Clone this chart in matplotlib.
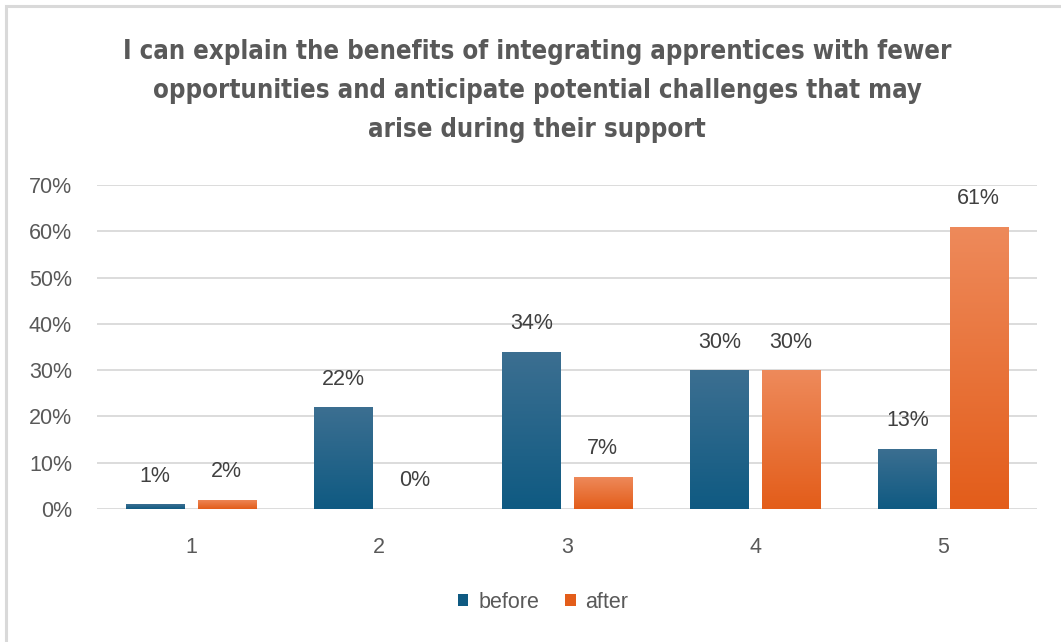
import numpy as np
import matplotlib
matplotlib.use("Agg")
import matplotlib.pyplot as plt
from matplotlib import font_manager as fm
from matplotlib.patches import Rectangle
from matplotlib.colors import LinearSegmentedColormap

# ---- data ----
categories = ["1", "2", "3", "4", "5"]
before = [1, 22, 34, 30, 13]
after = [2, 0, 7, 30, 61]
series_names = ["before", "after"]
y_ticks = [0, 10, 20, 30, 40, 50, 60, 70]
title = ("I can explain the benefits of integrating apprentices with fewer\n"
         "opportunities and anticipate potential challenges that may\n"
         "arise during their support")

W, H = 1061, 642
FS = 15.5
FAM = ["Liberation Sans", "DejaVu Sans"]
fig = plt.figure(figsize=(W / 100, H / 100), dpi=100)
fig.patch.set_facecolor("white")

# outer chart border (left/top visible)
fig.patches.append(Rectangle((6 / W, -0.1), 1.2, (H - 6) / H + 0.1, transform=fig.transFigure,
                             fill=False, edgecolor="#d9d9d9", linewidth=2.2))

ax = fig.add_axes([97 / W, (H - 509) / H, 940 / W, (509 - 185) / H])
for s in ax.spines.values():
    s.set_visible(False)
ax.set_yticks(y_ticks)
ax.set_yticklabels([f"{v}%" for v in y_ticks])
ax.yaxis.grid(True, color="#d9d9d9", linewidth=1.3)
ax.set_axisbelow(True)
ax.tick_params(axis="both", length=0, labelsize=FS, labelcolor="#595959")
ax.tick_params(axis="y", pad=18)
ax.tick_params(axis="x", pad=20)
x = np.arange(len(categories))
ax.set_xticks(x)
ax.set_xticklabels(categories)
for lab in ax.get_xticklabels() + ax.get_yticklabels():
    lab.set_fontfamily(FAM)

bw = 0.309
off = 0.19
colors = {"before": ("#0f5a82", "#3c6f91"), "after": ("#e35d1a", "#ee8a5b")}
for vals, name, sign in [(before, "before", -1), (after, "after", 1)]:
    bot, top = colors[name]
    bars = ax.bar(x + sign * off, vals, width=bw, color=bot, zorder=2, label=name,
                  edgecolor="none")
    cmap = LinearSegmentedColormap.from_list(name, [bot, top])
    grad = np.linspace(0, 1, 256).reshape(-1, 1)
    for b, v in zip(bars, vals):
        if b.get_height() > 0:
            im = ax.imshow(grad, extent=[b.get_x(), b.get_x() + b.get_width(), 0, b.get_height()],
                           origin="lower", cmap=cmap, aspect="auto", zorder=2.5, interpolation="bicubic")
            im.set_clip_path(b)
        ax.annotate(f"{v}%", (b.get_x() + b.get_width() / 2, b.get_height()),
                    xytext=(0, 28), textcoords="offset pixels", ha="center", va="center",
                    fontsize=FS, color="#404040", family=FAM, zorder=4)
ax.set_xlim(-0.5, len(categories) - 0.5)
ax.set_ylim(0, 70)

# title: choose a condensed bold font if present, else fit width
cond = None
for f in fm.fontManager.ttflist:
    if f.stretch in ("condensed", "semi-condensed", 600, 700) or "Condensed" in f.name:
        if f.weight in ("bold", 700, "semibold", 600):
            cond = f
            break
ls = 1.55
tprops = dict(ha="center", va="center", color="#595959")
if cond is not None:
    t = fig.text(537 / W, (H - 91) / H, title, fontproperties=fm.FontProperties(fname=cond.fname, size=20),
                 linespacing=ls, **tprops)
else:
    t = fig.text(537 / W, (H - 91) / H, title, family=["Roboto", "DejaVu Sans"], fontsize=20,
                 fontweight="bold", linespacing=ls, **tprops)
fig.canvas.draw()
r = fig.canvas.get_renderer()
bb = t.get_window_extent(r)
target_w = 830
t.set_fontsize(t.get_fontsize() * target_w / bb.width)
fig.canvas.draw()
# adjust linespacing so line pitch ~39px
for _ in range(3):
    r = fig.canvas.get_renderer()
    bb = t.get_window_extent(r)
    t1 = fig.text(0, 0, "Ig", fontproperties=t.get_fontproperties())
    lh = t1.get_window_extent(r).height
    t1.remove()
    cur_pitch = (bb.height - lh) / 2
    ls = ls * 39 / cur_pitch
    t.set_linespacing(ls)
    fig.canvas.draw()

leg = ax.legend(loc="center", bbox_to_anchor=(543 / W, (H - 602) / H), bbox_transform=fig.transFigure,
                ncol=2, frameon=False, handlelength=0.5, handleheight=0.5,
                handletextpad=0.45, columnspacing=1.2,
                prop={"family": FAM, "size": FS})
for txt in leg.get_texts():
    txt.set_color("#595959")

fig.savefig("out.png", dpi=100, facecolor="white")
